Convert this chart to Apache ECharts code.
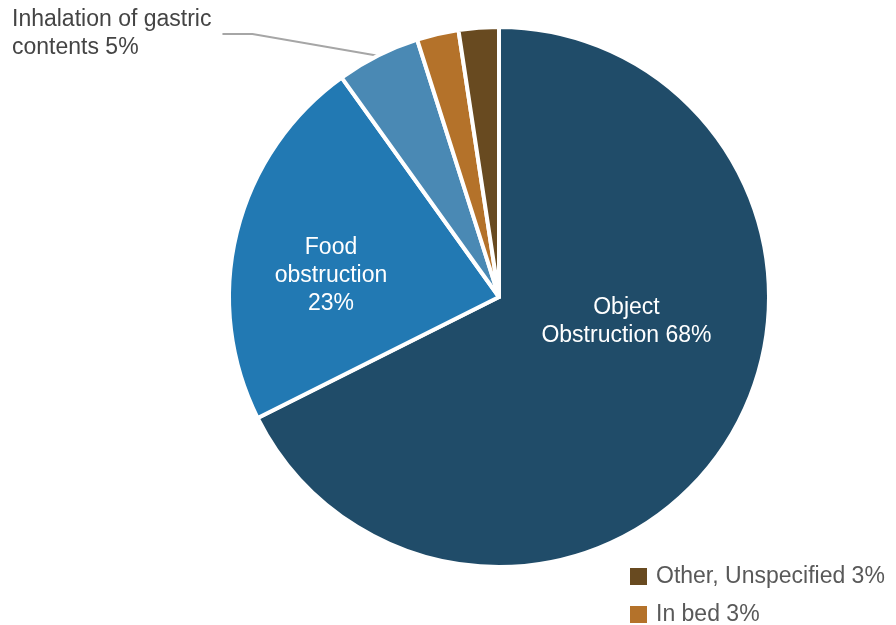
<!DOCTYPE html>
<html><head><meta charset="utf-8">
<script src="https://cdn.jsdelivr.net/npm/echarts@6/dist/echarts.min.js"></script>
<style>html,body{margin:0;padding:0;background:#fff}#c{width:896px;height:625px}</style>
</head><body><div id="c"></div>
<script>
const categories = ['Object Obstruction', 'Food obstruction', 'Inhalation of gastric contents', 'In bed', 'Other, Unspecified'];
const values = [67.6, 22.5, 5.0, 2.5, 2.4];
const shownPct = ['68%', '23%', '5%', '3%', '3%'];
const labelText = ['Object\nObstruction 68%', 'Food\nobstruction\n23%', 'Inhalation of gastric\ncontents 5%', '', ''];
const colors = ['#204c69', '#2279b3', '#4a89b4', '#b4722a', '#684a20'];
const legendItems = ['Other, Unspecified', 'In bed'];

const chart = echarts.init(document.getElementById('c'));
const data = categories.map((c, i) => {
  const d = { name: c, value: values[i], itemStyle: { color: colors[i] } };
  if (i === 0) d.label = { show: true, position: 'inside', offset: [10, -48] };
  else if (i === 1) d.label = { show: true, position: 'inside', offset: [-34, 12] };
  else if (i === 2) d.label = { show: true, position: 'outside', color: '#444', align: 'left', padding: [0, 11, 0, 0] };
  else d.label = { show: false };
  if (i === 2) d.labelLine = { show: true, lineStyle: { color: '#a6a6a6', width: 2 } };
  else d.labelLine = { show: false };
  return d;
});

const legendBase = {
  orient: 'vertical',
  left: 628,
  padding: 0,
  itemWidth: 19, itemHeight: 19,
  icon: 'rect',
  textStyle: { fontFamily: 'Liberation Sans', fontSize: 23, color: '#595959', padding: [0, 0, 0, 3] },
  formatter: n => n + ' ' + shownPct[categories.indexOf(n)]
};

chart.setOption({
  animation: false,
  legend: [
    Object.assign({}, legendBase, { data: [legendItems[0]], top: 565 }),
    Object.assign({}, legendBase, { data: [legendItems[1]], top: 603 })
  ],
  series: [{
    type: 'pie',
    center: [499, 297],
    radius: [0, 270],
    startAngle: 90,
    clockwise: true,
    avoidLabelOverlap: false,
    itemStyle: { borderColor: '#fff', borderWidth: 4 },
    label: {
      fontFamily: 'Liberation Sans', fontSize: 23, color: '#fff', lineHeight: 28,
      formatter: p => labelText[p.dataIndex]
    },
    labelLayout: p => {
      if (p.dataIndex === 2) return { x: 12, y: 34, align: 'left', verticalAlign: 'middle' };
      return {};
    },
    data: data
  }]
});
</script></body></html>
